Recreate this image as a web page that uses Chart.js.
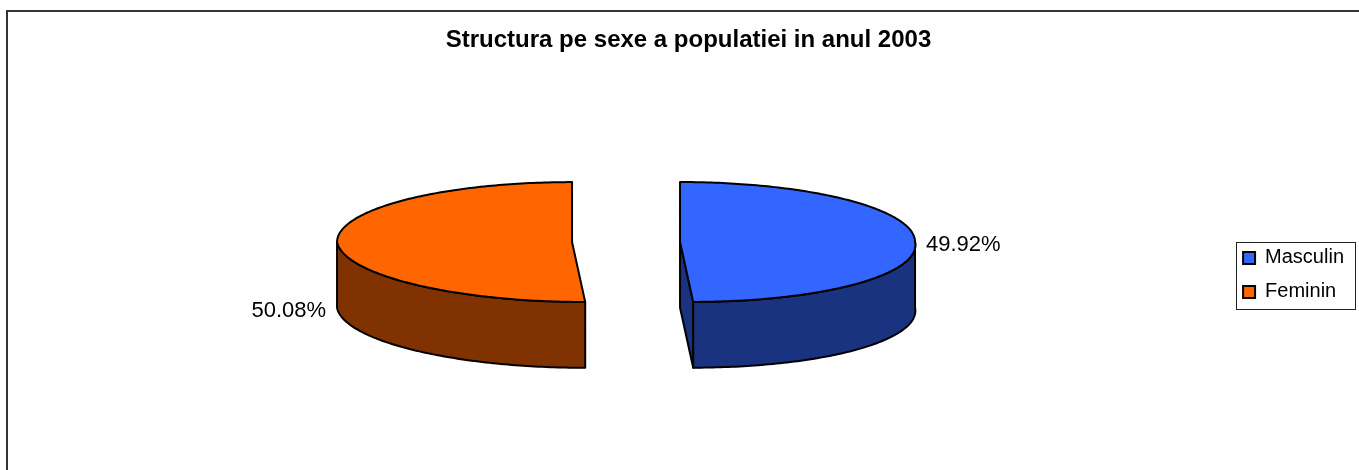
<!DOCTYPE html>
<html>
<head>
<meta charset="utf-8">
<title>Structura pe sexe a populatiei in anul 2003</title>
<script src="https://cdn.jsdelivr.net/npm/chart.js"></script>
<style>
  html, body { margin: 0; padding: 0; background: #fff; overflow: hidden; }
  #frame { position: absolute; left: 6px; top: 10px; width: 1400px; height: 520px; border: 2px solid #333; }
  #wrap { position: absolute; left: 0; top: 0; width: 1359px; height: 470px; }
</style>
</head>
<body>
<div id="frame"></div>
<div id="wrap"><canvas id="pie-chart"></canvas></div>
<script>
// Data
const categories = ['Masculin', 'Feminin'];
const shares = [49.92, 50.08];
const topColors = ['#3366FF', '#FF6600'];
const sideColors = ['#1A3380', '#803300'];

// Fake 3D pie: flattens each arc into an ellipse and extrudes it downwards
const pie3dPlugin = {
    id: 'pie3d',
    beforeDatasetDraw(chart, args, opts) {
        const ctx = chart.ctx;
        const meta = args.meta;
        const total = shares.reduce((a, b) => a + b, 0);

        ctx.save();
        ctx.lineJoin = 'round';

        meta.data.forEach((arc, i) => {
            const o = arc.options;
            const ts = arc.startAngle + Math.PI / 2;
            const te = arc.endAngle + Math.PI / 2;
            const mid = (ts + te) / 2;
            const rx = arc.outerRadius;
            const ry = rx * opts.tilt;
            const depth = rx * opts.depth;
            const off = o.offset || 0;
            const cx = arc.x + off * Math.sin(mid);
            const cy = arc.y - depth / 2 - off * Math.cos(mid) * opts.tilt;

            const pt = (t, r, dz) => ({
                x: cx + rx * r * Math.sin(t) + opts.skew * ry * r * Math.max(0, -Math.cos(t)),
                y: cy - ry * r * Math.cos(t) + dz
            });
            const arcPath = (a, b, dz) => {
                const n = Math.max(4, Math.ceil(Math.abs(b - a) * 60));
                for (let k = 0; k <= n; k++) {
                    const p = pt(a + (b - a) * k / n, 1, dz);
                    ctx.lineTo(p.x, p.y);
                }
            };
            const paint = (fill) => {
                ctx.fillStyle = fill;
                ctx.fill();
                ctx.lineWidth = o.borderWidth;
                ctx.strokeStyle = o.borderColor;
                ctx.stroke();
            };

            // cut faces
            [[ts, -1], [te, 1]].forEach(([t, sign]) => {
                const A = pt(t, 0, 0), B = pt(t, 1, 0), C = pt(t, 1, depth), D = pt(t, 0, depth);
                const cross = (B.x - A.x) * (D.y - A.y) - (B.y - A.y) * (D.x - A.x);
                if (cross * sign > 0.5) {
                    ctx.beginPath();
                    ctx.moveTo(A.x, A.y);
                    ctx.lineTo(B.x, B.y);
                    ctx.lineTo(C.x, C.y);
                    ctx.lineTo(D.x, D.y);
                    ctx.closePath();
                    paint(sideColors[i]);
                }
            });

            // outer wall (front half only)
            for (let k = -1; k <= 1; k++) {
                const a = Math.max(ts, Math.PI / 2 + 2 * Math.PI * k);
                const b = Math.min(te, 3 * Math.PI / 2 + 2 * Math.PI * k);
                if (b <= a) continue;
                ctx.beginPath();
                const p0 = pt(a, 1, 0);
                ctx.moveTo(p0.x, p0.y);
                arcPath(a, b, 0);
                arcPath(b, a, depth);
                ctx.closePath();
                paint(sideColors[i]);
            }

            // top face
            ctx.beginPath();
            const c0 = pt(ts, 0, 0);
            ctx.moveTo(c0.x, c0.y);
            arcPath(ts, te, 0);
            ctx.closePath();
            paint(o.backgroundColor);

            // percentage label
            const s = Math.sin(mid);
            const lx = cx + (rx + opts.labelGap) * s;
            const ly = cy - ry * Math.cos(mid) + (s < 0 ? depth : 0) + 3;
            ctx.font = opts.labelFont;
            ctx.fillStyle = '#000';
            ctx.textAlign = s < 0 ? 'right' : 'left';
            ctx.textBaseline = 'middle';
            ctx.fillText((shares[i] / total * 100).toFixed(2) + '%', lx, ly);
        });

        ctx.restore();
        return false;
    },
    afterDraw(chart) {
        // box round the legend
        const boxes = chart.legend.legendHitBoxes;
        if (!boxes || !boxes.length) return;
        const left = Math.min(...boxes.map(b => b.left)) - 7;
        const right = Math.max(...boxes.map(b => b.left + b.width)) + 11;
        const top = Math.min(...boxes.map(b => b.top)) - 6;
        const bottom = Math.max(...boxes.map(b => b.top + b.height)) + 7;
        const ctx = chart.ctx;
        ctx.save();
        ctx.strokeStyle = '#222';
        ctx.lineWidth = 1;
        ctx.strokeRect(Math.round(left) + 0.5, Math.round(top) + 0.5, Math.round(right - left), Math.round(bottom - top));
        ctx.restore();
    }
};

const ctx = document.getElementById('pie-chart').getContext('2d');

new Chart(ctx, {
    type: 'pie',
    data: {
        labels: categories,
        datasets: [{
            data: shares,
            backgroundColor: topColors,
            borderColor: '#000',
            borderWidth: 2,
            offset: 54
        }]
    },
    options: {
        responsive: true,
        maintainAspectRatio: false,
        animation: false,
        radius: 235,
        layout: {
            padding: { left: 23, right: 5, top: 0, bottom: 0 }
        },
        plugins: {
            title: {
                display: true,
                text: 'Structura pe sexe a populatiei in anul 2003',
                color: '#000',
                font: { family: 'Liberation Sans', size: 24, weight: 'bold' },
                padding: { top: 26, bottom: 25 }
            },
            legend: {
                position: 'right',
                fullSize: false,
                labels: {
                    color: '#000',
                    font: { family: 'Liberation Sans', size: 20 },
                    boxWidth: 12,
                    boxHeight: 12,
                    padding: 14
                }
            },
            tooltip: { enabled: false },
            pie3d: {
                tilt: 0.255,
                depth: 0.28,
                skew: 0.2,
                labelGap: 11,
                labelFont: '22px "Liberation Sans"'
            }
        }
    },
    plugins: [pie3dPlugin]
});
</script>
</body>
</html>
